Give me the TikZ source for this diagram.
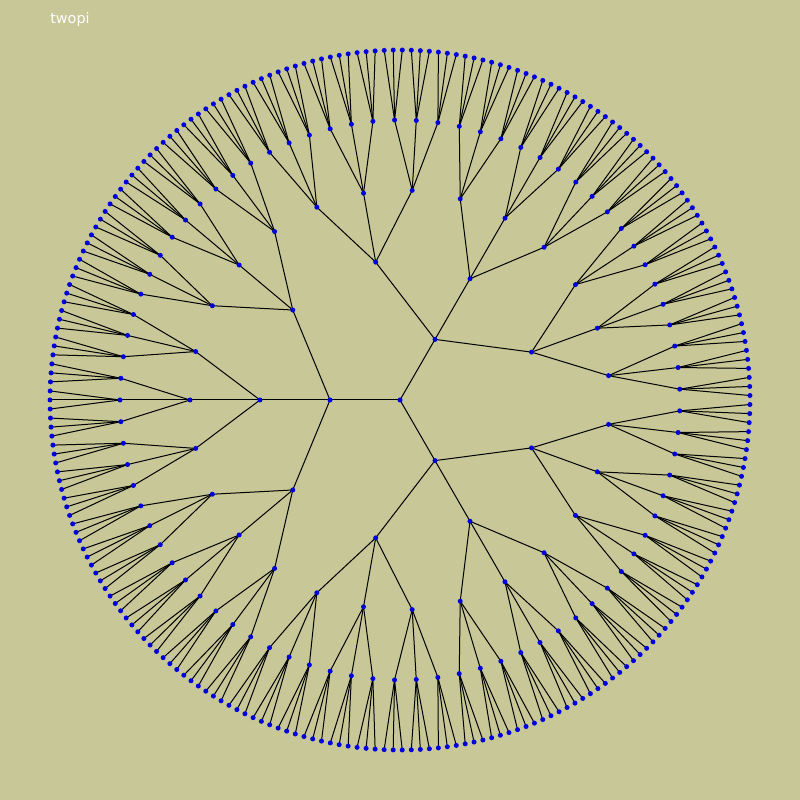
\documentclass[tikz,border=0pt]{standalone}
\usepackage{fontspec}
\setmainfont{DejaVu Sans}
\definecolor{bgc}{RGB}{199,199,151}
\definecolor{dotc}{RGB}{0,0,220}
\begin{document}
\begin{tikzpicture}[x=0.5pt,y=0.5pt,
  pt/.style={circle,inner sep=0pt,minimum size=2.5pt},
  edge/.style={draw=black,line width=0.5pt},
  dotfill/.style={fill=dotc},
  lbl/.style={text=white,font=\fontsize{7.2}{8.6}\selectfont,inner sep=0pt}]
\fill[bgc] (0,0) rectangle (800,800);
\useasboundingbox (0,0) rectangle (800,800);
\node[lbl] (title) at (70,780) {twopi};
\node[pt] (n-0-0) at (400,400) {};
\foreach \L in {1,...,5}{
  \pgfmathtruncatemacro\N{3^\L-1}
  \pgfmathtruncatemacro\D{3^\L}
  \foreach \i in {0,...,\N}{
    \pgfmathsetmacro\a{360*((\i+0.5)/\D)}
    \node[pt] (n-\L-\i) at ({400+70*\L*cos(\a)},{400+70*\L*sin(\a)}) {};
  }
}
\foreach \L in {1,...,5}{
  \pgfmathtruncatemacro\N{3^\L-1}
  \pgfmathtruncatemacro\Lp{\L-1}
  \foreach \i in {0,...,\N}{
    \pgfmathtruncatemacro\p{floor(\i/3)}
    \draw[edge] (n-\Lp-\p.center) -- (n-\L-\i.center);
  }
}
\foreach \L in {0,...,5}{
  \pgfmathtruncatemacro\N{3^\L-1}
  \foreach \i in {0,...,\N}{
    \fill[dotfill] (n-\L-\i.center) circle (1.25pt);
  }
}
\end{tikzpicture}
\end{document}
